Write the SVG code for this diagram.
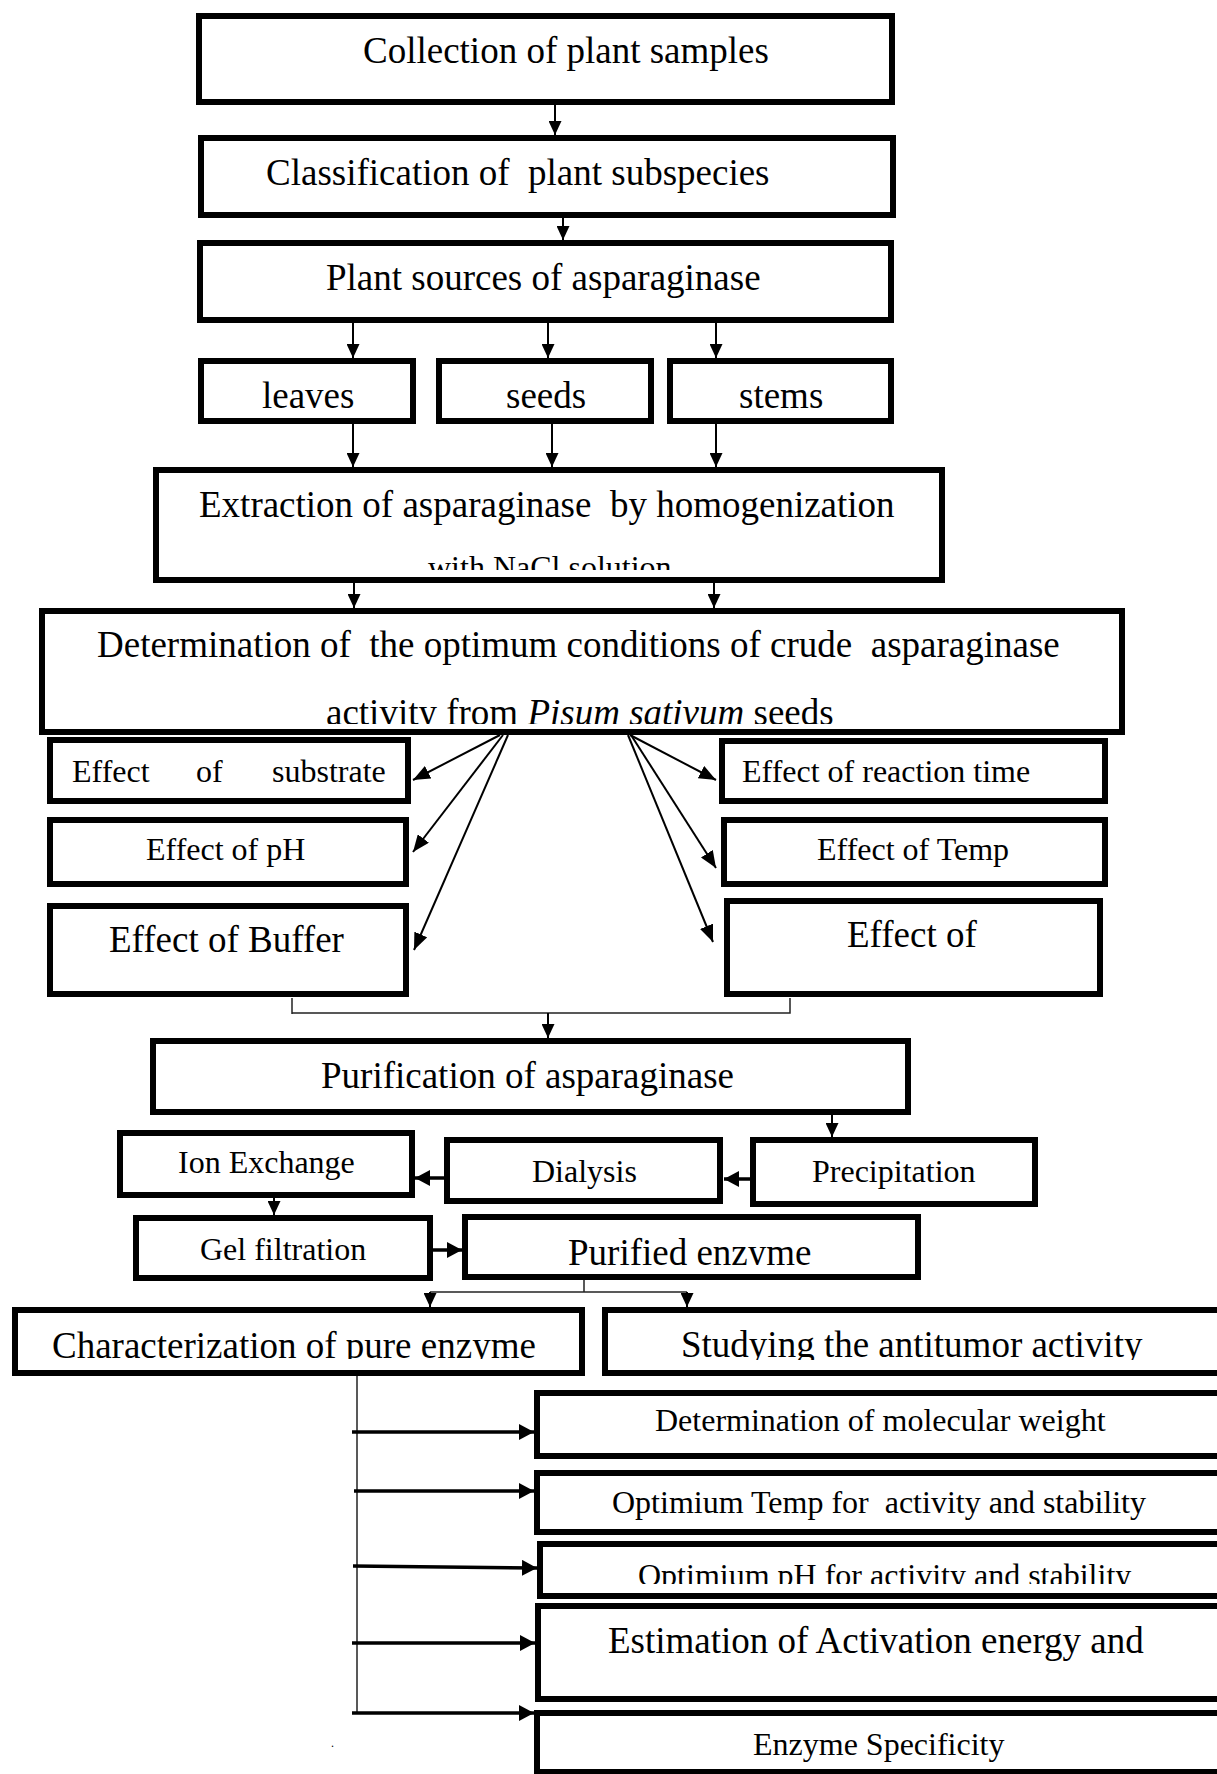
<svg xmlns="http://www.w3.org/2000/svg" width="1217" height="1774" viewBox="0 0 1217 1774">
<style>
.box{fill:#fff;stroke:#000;stroke-width:6}
.t{font-family:"Liberation Serif","Times New Roman",serif;fill:#000;white-space:pre}
.l{font-size:37px}
.s{font-size:32px}
.c{stroke:#000;stroke-width:2;fill:none}
.thin{stroke:#222;stroke-width:1.5;fill:none}
.thick{stroke:#000;stroke-width:3.5;fill:none}
</style>
<defs>
<marker id="ah" markerUnits="userSpaceOnUse" markerWidth="14" markerHeight="13" refX="14" refY="6.5" orient="auto" viewBox="0 0 14 13"><path d="M0,0 L14,6.5 L0,13 z" fill="#000"/></marker>
<marker id="ah2" markerUnits="userSpaceOnUse" markerWidth="17" markerHeight="14" refX="17" refY="7" orient="auto" viewBox="0 0 17 14"><path d="M0,0 L17,7 L0,14 z" fill="#000"/></marker>
<marker id="ah3" markerUnits="userSpaceOnUse" markerWidth="15" markerHeight="16" refX="15" refY="8" orient="auto" viewBox="0 0 15 16"><path d="M0,0 L15,8 L0,16 z" fill="#000"/></marker>
<clipPath id="cExt"><rect x="150" y="460" width="800" height="110"/></clipPath>
<clipPath id="cDet"><rect x="40" y="600" width="1090" height="124"/></clipPath>
<clipPath id="cPur"><rect x="460" y="1210" width="470" height="55"/></clipPath>
<clipPath id="cChar"><rect x="10" y="1300" width="580" height="59"/></clipPath>
<clipPath id="cStu"><rect x="600" y="1300" width="617" height="60"/></clipPath>
<clipPath id="cOpH"><rect x="535" y="1540" width="682" height="44"/></clipPath>
</defs>

<g id="connectors">
<line class="c" x1="555" y1="105" x2="555" y2="135" marker-end="url(#ah)"/>
<line class="c" x1="563" y1="218" x2="563" y2="240" marker-end="url(#ah)"/>
<line class="c" x1="353" y1="323" x2="353" y2="358" marker-end="url(#ah)"/>
<line class="c" x1="548" y1="323" x2="548" y2="358" marker-end="url(#ah)"/>
<line class="c" x1="716" y1="323" x2="716" y2="358" marker-end="url(#ah)"/>
<line class="c" x1="353" y1="424" x2="353" y2="467" marker-end="url(#ah)"/>
<line class="c" x1="552" y1="424" x2="552" y2="467" marker-end="url(#ah)"/>
<line class="c" x1="716" y1="424" x2="716" y2="467" marker-end="url(#ah)"/>
<line class="c" x1="354" y1="583" x2="354" y2="608" marker-end="url(#ah)"/>
<line class="c" x1="714" y1="583" x2="714" y2="608" marker-end="url(#ah)"/>
<line class="c" x1="500" y1="735" x2="413" y2="780" marker-end="url(#ah2)"/>
<line class="c" x1="503" y1="735" x2="413" y2="852" marker-end="url(#ah2)"/>
<line class="c" x1="508" y1="735" x2="414" y2="950" marker-end="url(#ah2)"/>
<line class="c" x1="630" y1="735" x2="716" y2="780" marker-end="url(#ah2)"/>
<line class="c" x1="631" y1="735" x2="716" y2="868" marker-end="url(#ah2)"/>
<line class="c" x1="628" y1="735" x2="713" y2="942" marker-end="url(#ah2)"/>
<polyline class="thin" points="292,998 292,1014"/>
<polyline class="thin" points="292,1013 790,1013 790,998"/>
<line class="c" x1="548" y1="1013" x2="548" y2="1038" marker-end="url(#ah)"/>
<line class="c" x1="832" y1="1115" x2="832" y2="1137" marker-end="url(#ah)"/>
<line class="thick" x1="756" y1="1179" x2="724" y2="1179" marker-end="url(#ah3)"/>
<line class="thick" x1="452" y1="1178" x2="415" y2="1178" marker-end="url(#ah3)"/>
<line class="c" x1="274" y1="1198" x2="274" y2="1215" marker-end="url(#ah)"/>
<line class="thick" x1="423" y1="1250" x2="462" y2="1250" marker-end="url(#ah3)"/>
<polyline class="thin" points="584,1280 584,1292"/>
<polyline class="thin" points="430,1292 687,1292"/>
<line class="c" x1="430" y1="1292" x2="430" y2="1307" marker-end="url(#ah)"/>
<line class="c" x1="687" y1="1292" x2="687" y2="1307" marker-end="url(#ah)"/>
<polyline class="thin" points="357,1376 357,1713"/>
<line class="thick" x1="352" y1="1432" x2="534" y2="1432" marker-end="url(#ah3)"/>
<line class="thick" x1="354" y1="1491" x2="534" y2="1491" marker-end="url(#ah3)"/>
<line class="thick" x1="353" y1="1566" x2="537" y2="1568" marker-end="url(#ah3)"/>
<line class="thick" x1="352" y1="1643" x2="535" y2="1643" marker-end="url(#ah3)"/>
<line class="thick" x1="352" y1="1713" x2="534" y2="1713" marker-end="url(#ah3)"/>
</g>

<g id="n-collection"><rect class="box" x="199" y="16" width="693" height="86"/><text class="t l" x="363" y="63">Collection of plant samples</text></g>
<g id="n-classification"><rect class="box" x="201" y="138" width="692" height="77"/><text class="t l" x="266" y="185" xml:space="preserve">Classification of  plant subspecies</text></g>
<g id="n-sources"><rect class="box" x="200" y="243" width="691" height="77"/><text class="t l" x="326" y="290">Plant sources of asparaginase</text></g>
<g id="n-leaves"><rect class="box" x="201" y="361" width="212" height="60"/><text class="t l" x="262" y="408">leaves</text></g>
<g id="n-seeds"><rect class="box" x="439" y="361" width="212" height="60"/><text class="t l" x="506" y="408">seeds</text></g>
<g id="n-stems"><rect class="box" x="670" y="361" width="221" height="60"/><text class="t l" x="739" y="408">stems</text></g>
<g id="n-extraction"><rect class="box" x="156" y="470" width="786" height="110"/><text class="t l" x="199" y="517" xml:space="preserve">Extraction of asparaginase  by homogenization</text><text class="t s" x="428" y="578" clip-path="url(#cExt)">with NaCl solution</text></g>
<g id="n-determination"><rect class="box" x="42" y="611" width="1080" height="121"/><text class="t l" x="97" y="657" xml:space="preserve">Determination of  the optimum conditions of crude  asparaginase</text><text class="t l" x="326" y="725" clip-path="url(#cDet)">activity from <tspan font-style="italic">Pisum sativum</tspan> seeds</text></g>
<g id="n-substrate"><rect class="box" x="50" y="740" width="358" height="61"/><text class="t s" y="782"><tspan x="72">Effect</tspan><tspan x="196">of</tspan><tspan x="272">substrate</tspan></text></g>
<g id="n-ph"><rect class="box" x="50" y="820" width="356" height="64"/><text class="t s" x="146" y="860">Effect of pH</text></g>
<g id="n-buffer"><rect class="box" x="50" y="906" width="356" height="88"/><text class="t l" x="109" y="952">Effect of Buffer</text></g>
<g id="n-reaction"><rect class="box" x="722" y="741" width="383" height="60"/><text class="t s" x="742" y="782">Effect of reaction time</text></g>
<g id="n-temp"><rect class="box" x="724" y="820" width="381" height="64"/><text class="t s" x="817" y="860">Effect of Temp</text></g>
<g id="n-effectof"><rect class="box" x="727" y="901" width="373" height="93"/><text class="t l" x="847" y="947">Effect of</text></g>
<g id="n-purification"><rect class="box" x="153" y="1041" width="755" height="71"/><text class="t l" x="321" y="1088">Purification of asparaginase</text></g>
<g id="n-precipitation"><rect class="box" x="753" y="1140" width="282" height="64"/><text class="t s" x="812" y="1182">Precipitation</text></g>
<g id="n-dialysis"><rect class="box" x="447" y="1140" width="273" height="61"/><text class="t s" x="532" y="1182">Dialysis</text></g>
<g id="n-ionexchange"><rect class="box" x="120" y="1133" width="292" height="62"/><text class="t s" x="178" y="1173">Ion Exchange</text></g>
<g id="n-gel"><rect class="box" x="136" y="1218" width="294" height="60"/><text class="t s" x="200" y="1260">Gel filtration</text></g>
<g id="n-purified"><rect class="box" x="465" y="1217" width="453" height="60"/><text class="t l" x="568" y="1265" clip-path="url(#cPur)">Purified enzyme</text></g>
<g id="n-characterization"><rect class="box" x="15" y="1310" width="567" height="63"/><text class="t l" x="52" y="1358" clip-path="url(#cChar)">Characterization of pure enzyme</text></g>
<g id="n-antitumor"><rect class="box" x="605" y="1310" width="640" height="63"/><text class="t l" x="681" y="1357" clip-path="url(#cStu)">Studying the antitumor activity</text></g>
<g id="n-molweight"><rect class="box" x="537" y="1393" width="700" height="63"/><text class="t s" x="655" y="1431">Determination of molecular weight</text></g>
<g id="n-opttemp"><rect class="box" x="537" y="1473" width="700" height="59"/><text class="t s" x="612" y="1513" xml:space="preserve">Optimium Temp for  activity and stability</text></g>
<g id="n-optph"><rect class="box" x="540" y="1544" width="697" height="52"/><text class="t s" x="638" y="1586" clip-path="url(#cOpH)">Optimium pH for activity and stability</text></g>
<g id="n-activation"><rect class="box" x="538" y="1606" width="699" height="93"/><text class="t l" x="608" y="1653">Estimation of Activation energy and</text></g>
<g id="n-specificity"><rect class="box" x="537" y="1713" width="700" height="59"/><text class="t s" x="753" y="1755">Enzyme Specificity</text></g>
<text class="t" x="331" y="1747" font-size="12">.</text>
</svg>
